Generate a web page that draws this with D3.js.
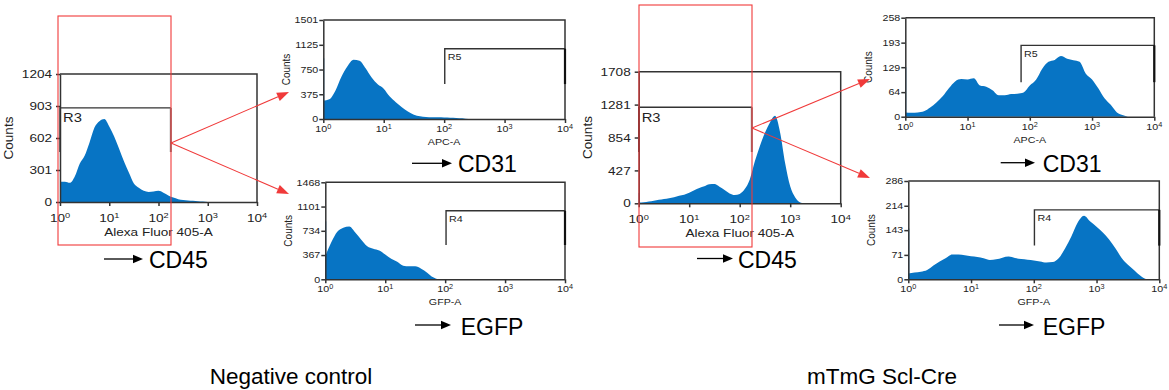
<!DOCTYPE html>
<html><head><meta charset="utf-8">
<script src="https://cdn.jsdelivr.net/npm/d3@7"></script>
<style>body{margin:0;background:#fff}svg{display:block}</style>
</head><body>
<svg id="c" width="1169" height="390"></svg>
<script>
// ---------- data (log10 channel position in decades, counts) ----------
const bins = [0,0.1,0.2,0.3,0.4,0.5,0.6,0.7,0.8,0.9,1.0,1.1,1.2,1.3,1.4,1.5,1.6,1.7,1.8,1.9,2.0,
              2.1,2.2,2.3,2.4,2.5,2.6,2.7,2.8,2.9,3.0,3.1,3.2,3.3,3.4,3.5,3.6,3.7,3.8,3.9,4.0];
const negCD45  = [190,190,180,240,360,435,560,700,760,780,710,615,500,380,275,175,135,105,95,98,105,
                  88,62,42,27,18,15,11,8,4,0,0,0,0,0,0,0,0,0,0,0];
const negCD31  = [280,300,430,640,800,900,885,770,630,525,460,340,255,180,112,65,42,32,27,25,22,
                  20,17,10,0,0,0,0,0,0,0,0,0,0,0,0,0,0,0,0,0];
const negEGFP  = [350,560,720,780,800,710,600,500,463,436,375,312,265,206,197,197,160,100,30,0,0,
                  0,0,0,0,0,0,0,0,0,0,0,0,0,0,0,0,0,0,0,0];
const mtmgCD45 = [10,13,22,32,45,56,66,80,97,112,138,170,200,222,248,250,215,172,128,107,122,
                  185,310,545,745,915,1050,1135,920,520,220,75,12,0,0,0,0,0,0,0,0];
const mtmgCD31 = [11,10,11,14,24,37,53,74,92,98,97,100,81,78,69,56,56,59,60,63,81,
                  96,125,143,148,158,151,147,143,112,97,74,48,31,11,4,0,0,0,0,0];
const mtmgEGFP = [17,20,22,27,40,52,62,72,72,70,67,65,61,56,58,63,66,62,59,57,55,
                  52,49,50,62,90,125,165,185,168,153,136,116,90,62,42,26,10,0,0,0];
const firstChannel = [630, 920, 877, 134, 129, 148];

const yTickLabels = [[0,301,602,903,1204],[0,375,750,1125,1501],[0,367,734,1101,1468],
                     [0,427,854,1281,1708],[0,64,129,193,258],[0,71,143,214,286]];
const xTickExponents = [0,1,2,3,4];
const xTitles = ["Alexa Fluor 405-A","APC-A","GFP-A","Alexa Fluor 405-A","APC-A","GFP-A"];
const gateNames = ["R3","R5","R4","R3","R5","R4"];
const gateFrom  = [0, 2.01, 2.015, 0, 1.86, 2.01];
const gateTo    = [2.25, 4, 4, 2.24, 4, 4];
const gateLevel = [885, 1066, 1038, 1246, 186, 202];
const gateDrop  = [470, 530, 519, 666, 90, 98];
const markers = ["CD45","CD31","EGFP","CD45","CD31","EGFP"];
const groupLabels = ["Negative control","mTmG Scl-Cre"];

const series = [negCD45, negCD31, negEGFP, mtmgCD45, mtmgCD31, mtmgEGFP];

// ---------- layout ----------
const layout = [
  {l:60,    r:257,    t:74,    b:202,   big:true,  ar:{x1:104,   x2:143,  y:259,   tx:149,   ty:267.5}},
  {l:323.3, r:565,    t:20,    b:119,   big:false, ar:{x1:412,   x2:452,  y:163.3, tx:458,   ty:171.5}},
  {l:325.3, r:565,    t:182.3, b:279.3, big:false, ar:{x1:415,   x2:451,  y:325,   tx:460.7, ty:335}},
  {l:638.7, r:840.7,  t:71.7,  b:203.3, big:true,  ar:{x1:697,   x2:733,  y:258.5, tx:738,   ty:267.5}},
  {l:905.3, r:1154.3, t:17.7,  b:116.7, big:false, ar:{x1:1000.7,x2:1035, y:162.7, tx:1042.7,ty:171.5}},
  {l:908.3, r:1159.3, t:181,   b:279.3, big:false, ar:{x1:999,   x2:1034, y:325,   tx:1042.7,ty:335}}
];
const FONT = "'Liberation Sans', Arial, Helvetica, sans-serif";
const AX = "#333";
const BLUE = "#0774c4";
const RED = "#f03a3a";

const svg = d3.select("#c").style("font-family", FONT);

function arrow(g, x1, y1, x2, y2, color, len, wid, sw) {
  const a = Math.atan2(y2 - y1, x2 - x1);
  const bx = x2 - len * Math.cos(a), by = y2 - len * Math.sin(a);
  g.append("line").attr("x1", x1).attr("y1", y1).attr("x2", bx).attr("y2", by)
    .attr("stroke", color).attr("stroke-width", sw);
  const px = Math.sin(a) * wid / 2, py = -Math.cos(a) * wid / 2;
  g.append("polygon").attr("points", `${x2},${y2} ${bx+px},${by+py} ${bx-px},${by-py}`).attr("fill", color);
}

layout.forEach((L, i) => {
  const g = svg.append("g");
  const yMax = yTickLabels[i][yTickLabels[i].length - 1];
  const x = d3.scaleLog().domain([1, 1e4]).range([L.l, L.r]);
  const y = d3.scaleLinear().domain([0, yMax]).range([L.b, L.t]);
  const fs = L.big ? 11.5 : 9.3;
  const sx = L.big ? 1.18 : 1.15;
  const data = bins.map((d, k) => ({d, c: series[i][k]}));

  // histogram
  const area = d3.area().x(p => x(Math.pow(10, p.d))).y0(y(0)).y1(p => y(p.c)).curve(d3.curveMonotoneX);
  g.append("path").datum(data).attr("d", area).attr("fill", BLUE);
  g.append("rect").attr("x", x(1)).attr("y", y(firstChannel[i]))
    .attr("width", x(Math.pow(10, 0.015)) - x(1)).attr("height", y(0) - y(firstChannel[i])).attr("fill", BLUE);

  // frame top/right
  g.append("path").attr("d", `M${x(1)},${y(yMax)}H${x(1e4)}V${y(0)}`)
    .attr("fill", "none").attr("stroke", AX).attr("stroke-width", 1.5);

  // axes
  const ya = d3.axisLeft(y).tickValues(yTickLabels[i]).tickSize(4).tickSizeOuter(0).tickFormat("");
  const yg = g.append("g").attr("transform", `translate(${x(1)},0)`).call(ya);
  const xa = d3.axisBottom(x).tickValues(xTickExponents.map(e => Math.pow(10, e))).tickSize(4).tickSizeOuter(0).tickFormat("");
  const xg = g.append("g").attr("transform", `translate(0,${y(0)})`).call(xa);
  [yg, xg].forEach(a => { a.selectAll("path,line").attr("stroke", AX).attr("stroke-width", 1.5); });

  // y tick labels
  g.selectAll(".yl").data(yTickLabels[i]).join("text")
    .attr("transform", d => `translate(${x(1) - (L.big ? 8 : 5)},${y(d)}) scale(${sx},1)`)
    .attr("text-anchor", "end").attr("dy", "0.36em").attr("font-size", fs).attr("fill", "#222").text(d => d);

  // x tick labels 10^k
  const xl = g.selectAll(".xl").data(xTickExponents).join("text")
    .attr("transform", e => `translate(${x(Math.pow(10, e))},${y(0) + (L.big ? 20 : 12.8)}) scale(${sx},1)`)
    .attr("text-anchor", "middle").attr("font-size", fs).attr("fill", "#222");
  xl.append("tspan").text("10");
  xl.append("tspan").attr("dy", "-0.45em").attr("font-size", fs * 0.68).text(e => e);

  // axis titles
  g.append("text").attr("transform", `translate(${(L.l + L.r) / 2},${y(0) + (L.big ? 33.5 : 26)}) scale(${sx},1)`)
    .attr("text-anchor", "middle").attr("font-size", fs).attr("fill", "#222").text(xTitles[i]);
  g.append("text").attr("transform", `translate(${L.big ? L.l - 47 : L.l - 33.5},${(L.t + L.b) / 2}) rotate(-90)`)
    .attr("text-anchor", "middle").attr("font-size", L.big ? 13.5 : 10).attr("fill", "#222").text("Counts");

  // gate
  const gx1 = x(Math.pow(10, gateFrom[i])), gx2 = x(Math.pow(10, gateTo[i]));
  g.append("path").attr("d", `M${gx1},${y(gateDrop[i])}V${y(gateLevel[i])}H${gx2}`)
    .attr("fill", "none").attr("stroke", AX).attr("stroke-width", 1.4);
  g.append("line").attr("x1", gx2).attr("x2", gx2).attr("y1", y(gateLevel[i])).attr("y2", y(gateDrop[i]))
    .attr("stroke", L.big ? "#777" : "#111").attr("stroke-width", L.big ? 2 : 2.2);
  g.append("text").attr("transform", `translate(${gx1 + 3},${y(gateLevel[i]) + (L.big ? 14.5 : 11.5)}) scale(${sx},1)`)
    .attr("font-size", L.big ? 12.5 : fs).attr("fill", "#222").text(gateNames[i]);

  // marker label with black arrow
  arrow(g, L.ar.x1, L.ar.y, L.ar.x2, L.ar.y, "#000", 10, 8.5, 1.3);
  g.append("text").attr("x", L.ar.tx).attr("y", L.ar.ty).attr("font-size", 23).attr("fill", "#000").text(markers[i]);
});

// red gate annotations
const ann = svg.append("g");
const redBoxes = [{x1:58, y1:16, x2:171, y2:245}, {x1:639, y1:5, x2:752, y2:247}];
redBoxes.forEach(b => ann.append("rect").attr("x", b.x1).attr("y", b.y1).attr("width", b.x2 - b.x1)
  .attr("height", b.y2 - b.y1).attr("fill", "none").attr("stroke", RED).attr("stroke-width", 1.1));
const redArrows = [
  {x1:171, y1:143, x2:289, y2:92}, {x1:171, y1:143, x2:289, y2:194},
  {x1:752, y1:128, x2:870, y2:79}, {x1:752, y1:128, x2:870, y2:178}
];
redArrows.forEach(a => arrow(ann, a.x1, a.y1, a.x2, a.y2, RED, 12, 9, 1.1));

// group labels
svg.append("text").attr("x", 291).attr("y", 384).attr("text-anchor", "middle").attr("font-size", 22.5).text(groupLabels[0]);
svg.append("text").attr("x", 882).attr("y", 384).attr("text-anchor", "middle").attr("font-size", 22.5).text(groupLabels[1]);
</script>
</body></html>
